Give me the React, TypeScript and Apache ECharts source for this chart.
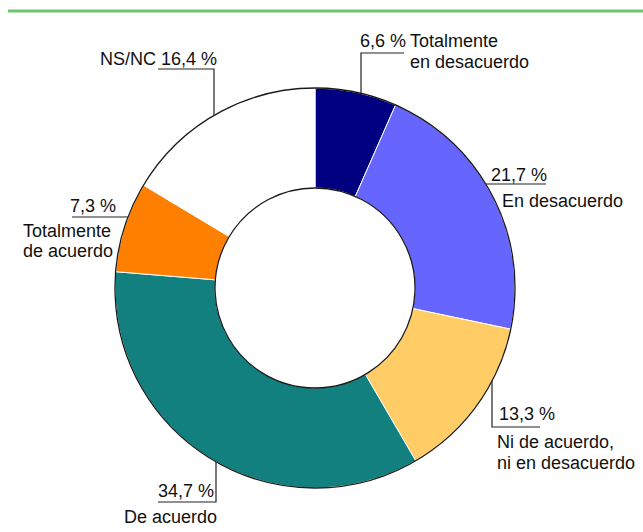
import React, { useEffect, useRef } from "react";
import * as echarts from "echarts";

const categories = [
  "Totalmente en desacuerdo",
  "En desacuerdo",
  "Ni de acuerdo, ni en desacuerdo",
  "De acuerdo",
  "Totalmente de acuerdo",
  "NS/NC",
];
const values = [6.6, 21.7, 13.3, 34.7, 7.3, 16.4];
const colors = ["#000080", "#6666ff", "#ffcc66", "#138080", "#ff8000", "#ffffff"];

const fmt = (v: number) => v.toFixed(1).replace(".", ",") + " %";

// label text templates ({v} replaced by the formatted value)
const labelTemplates = [
  "{w50|{v}}{n21|Totalmente}\n{w50| }{n21|en desacuerdo}",
  "{n26|{v}}\n{w11| }{n26|En desacuerdo}",
  "{w2| }{n35|{v}}\n{n21|Ni de acuerdo,}\n{n21|ni en desacuerdo}",
  "{w34| }{n26|{v}}\n{n26|De acuerdo}",
  "{w47| }{n30|{v}}\n{n20|Totalmente}\n{n20|de acuerdo}",
  "{n20|NS/NC {v}}",
];

// label placement (top-left) and leader lines
const labelPos = [
  [360, 30],
  [491, 162],
  [497, 396],
  [124, 478],
  [23, 191],
  [100, 49],
];
const leaderLines = [
  [[361, 93], [361, 53], [404, 53]],
  [[486, 184], [516, 184], [546, 184]],
  [[492, 381], [492, 427], [540, 427]],
  [[216, 462], [216, 502], [158, 502]],
  [[128, 217], [100, 217], [72, 217]],
  [[214, 115], [214, 69], [158, 69]],
];

const FONT = 'Arial, "Liberation Sans", sans-serif';

export default function App() {
  const ref = useRef<HTMLDivElement>(null);
  useEffect(() => {
    if (!ref.current) return;
    const chart = echarts.init(ref.current, null, { renderer: "svg" });
    const center = [315, 288];
    const radius = [100, 200];
    chart.setOption({
      animation: false,
      backgroundColor: "#ffffff",
      graphic: [
        {
          type: "rect",
          shape: { x: 8, y: 9.5, width: 635, height: 3 },
          style: { fill: "#70c470" },
          silent: true,
        },
      ],
      series: [
        {
          type: "pie",
          center,
          radius,
          startAngle: 90,
          clockwise: true,
          avoidLabelOverlap: false,
          data: categories.map((c, i) => ({
            name: c,
            value: values[i],
            itemStyle: { color: colors[i] },
          })),
          itemStyle: { borderColor: "#ffffff", borderWidth: 1 },
          label: {
            show: true,
            position: "outside",
            fontFamily: FONT,
            fontSize: 18,
            color: "#111",
            formatter: (p: any) =>
              labelTemplates[p.dataIndex].replace("{v}", fmt(values[p.dataIndex])),
            rich: {
              n20: { fontFamily: FONT, fontSize: 18, color: "#111", lineHeight: 20 },
              n21: { fontFamily: FONT, fontSize: 18, color: "#111", lineHeight: 21 },
              n26: { fontFamily: FONT, fontSize: 18, color: "#111", lineHeight: 26 },
              n30: { fontFamily: FONT, fontSize: 18, color: "#111", lineHeight: 30 },
              n35: { fontFamily: FONT, fontSize: 18, color: "#111", lineHeight: 35 },
              w50: { fontFamily: FONT, fontSize: 18, color: "#111", lineHeight: 21, width: 50 },
              w11: { fontFamily: FONT, fontSize: 18, color: "#111", lineHeight: 26, width: 11 },
              w2: { fontFamily: FONT, fontSize: 18, color: "#111", lineHeight: 35, width: 2 },
              w34: { fontFamily: FONT, fontSize: 18, color: "#111", lineHeight: 26, width: 34 },
              w47: { fontFamily: FONT, fontSize: 18, color: "#111", lineHeight: 30, width: 47 },
            },
          },
          labelLine: {
            show: true,
            smooth: false,
            lineStyle: { color: "#222", width: 1.2 },
          },
          labelLayout: (params: any) => {
            const i = params.dataIndex;
            return {
              x: labelPos[i][0],
              y: labelPos[i][1],
              align: "left",
              verticalAlign: "top",
              labelLinePoints: leaderLines[i],
            };
          },
          emphasis: { disabled: true },
        },
        {
          type: "pie",
          center,
          radius,
          silent: true,
          label: { show: false },
          labelLine: { show: false },
          data: [{ value: 1, name: "outline" }],
          itemStyle: {
            color: "rgba(0,0,0,0)",
            borderColor: "#1a1a1a",
            borderWidth: 1.3,
          },
          emphasis: { disabled: true },
        },
      ],
    });
    return () => chart.dispose();
  }, []);
  return (
    <div
      ref={ref}
      style={{ position: "fixed", left: 0, top: 0, width: 643, height: 532, background: "#fff" }}
    />
  );
}
